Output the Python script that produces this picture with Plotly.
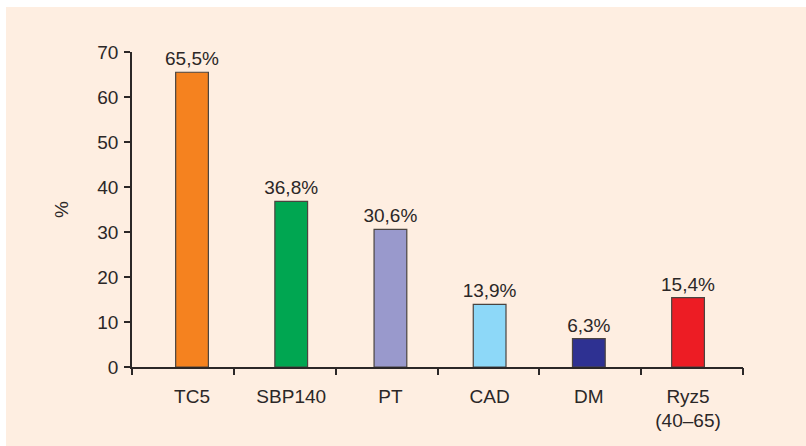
import plotly.graph_objects as go

categories = ["TC5", "SBP140", "PT", "CAD", "DM", "Ryz5<br>(40–65)"]
values = [65.5, 36.8, 30.6, 13.9, 6.3, 15.4]
labels = ["65,5%", "36,8%", "30,6%", "13,9%", "6,3%", "15,4%"]
colors = ["#f5821f", "#00a651", "#9999cc", "#8dd8f8", "#2e3192", "#ed1c24"]
y_ticks = [0, 10, 20, 30, 40, 50, 60, 70]
boundary_ticks = [0, 1, 2, 3, 4, 5, 6]

FONT = "Liberation Sans Narrow, Arial Narrow, Liberation Sans, Arial, sans-serif"
TXT = "#2b2727"
AX = "#2b2727"
FS = 19

fig = go.Figure()
fig.add_trace(go.Bar(
    x=categories, y=values, text=labels, textposition="outside",
    textfont=dict(family=FONT, size=FS, color=TXT),
    constraintext="none",
    marker=dict(color=colors, line=dict(color="#4a4440", width=1.2)),
    width=0.33, cliponaxis=False, hoverinfo="skip",
))
fig.add_trace(go.Scatter(x=[None], y=[None], xaxis="x2", yaxis="y",
                         showlegend=False, hoverinfo="skip"))

fig.update_layout(
    width=806, height=446,
    margin=dict(l=132, r=63, t=52, b=79, autoexpand=False),
    paper_bgcolor="white", plot_bgcolor="rgba(0,0,0,0)",
    font=dict(family=FONT, size=FS, color=TXT),
    showlegend=False,
    shapes=[dict(type="rect", xref="paper", yref="paper", layer="below",
                 x0=-126/611, x1=(806-132)/611, y0=-79/315, y1=(446-7-79)/315,
                 line=dict(width=0), fillcolor="#feeee1")],
    xaxis2=dict(overlaying="x", side="bottom", range=[0, 6], tickvals=boundary_ticks,
                showticklabels=False, showgrid=False, zeroline=False, showline=False,
                ticks="outside", ticklen=7, tickcolor=AX, tickwidth=1.5,
                automargin=False, fixedrange=True),
    xaxis=dict(
        type="category", range=[-0.605, 5.554], showgrid=False, zeroline=False,
        showline=True, linecolor=AX, linewidth=1.5, automargin=False,
        ticks="", ticklabelstandoff=11,
        tickfont=dict(family=FONT, size=FS, color=TXT), fixedrange=True,
    ),
)
fig.update_yaxes(
    range=[0, 70], tickvals=y_ticks, showgrid=False, zeroline=False,
    showline=True, linecolor=AX, linewidth=1.5, automargin=False,
    ticks="outside", ticklen=6, tickcolor=AX, tickwidth=1.5,
    ticklabelstandoff=2, fixedrange=True,
    tickfont=dict(family=FONT, size=FS, color=TXT),
    title=dict(text="%", standoff=24, font=dict(family=FONT, size=FS, color=TXT)),
)

fig.write_html("out.html", config={"displayModeBar": False},
               post_script="document.body.style.margin='0';")
